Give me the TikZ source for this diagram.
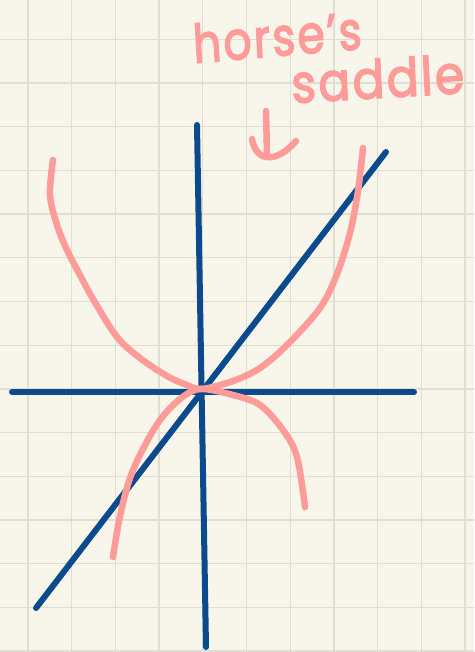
\documentclass[tikz,border=0pt]{standalone}
\usepackage{fontspec}
\newfontfamily\handfont{Poppins}[LetterSpace=5, FakeBold=3]
\usetikzlibrary{arrows.meta}
\definecolor{paper}{HTML}{F8F6EA}
\definecolor{gridline}{HTML}{E0DED2}
\definecolor{axisblue}{HTML}{0B4A8C}
\definecolor{saddlepink}{HTML}{FF9B99}

\begin{document}
\begin{tikzpicture}[
    x=1pt, y=-1pt,
    gridrule/.style={draw=gridline, line width=1.3pt},
    axis/.style={draw=axisblue, line width=6pt, line cap=round},
    sketch/.style={draw=saddlepink, line width=6.5pt, line cap=round, line join=round},
    scribble/.style={text=saddlepink, font=\handfont\fontsize{53}{53}\selectfont,
        inner sep=0pt, anchor=base west, transform shape},
]

% === PAPER ===
\fill[paper] (0,0) rectangle (474,652);
\useasboundingbox (0,0) rectangle (474,652);
\foreach \gx in {0,...,10}
    \draw[gridrule] (28+43.7*\gx,0) -- (28+43.7*\gx,652);
\foreach \gy in {0,...,15}
    \draw[gridrule] (0,-4.4+43.7*\gy) -- (474,-4.4+43.7*\gy);

% === AXES ===
\coordinate (ytop) at (197,125);
\coordinate (ybot) at (206,647);
\coordinate (xleft) at (12,392);
\coordinate (xright) at (414,392);
\coordinate (diaglo) at (36,608);
\coordinate (diaghi) at (386,152);

\draw[axis] (ytop) -- (ybot);
\draw[axis] (xleft) -- (xright);
\draw[axis] (diaglo) -- (diaghi);

% === SADDLE CURVES ===
\draw[sketch] plot[smooth, tension=0.55] coordinates {
    (53,160) (50,195) (57,225) (67,250) (80,275) (93,299) (117,337)
    (140,358) (167,376) (187,385) (202,389) (233,381) (260,368)
    (287,345) (320,308) (337,274) (350,233) (358,191) (363,148)};
\draw[sketch] plot[smooth, tension=0.55] coordinates {
    (113,557) (120,516) (130,478) (143,449) (160,420) (180,399)
    (200,389) (233,395) (260,405) (283,430) (297,457) (305,507)};

% === LABEL ===
\node[scribble, text depth=0pt, xscale=0.83, rotate=4] (horse) at (194,63) {horse’s};
\node[scribble, xscale=0.89, rotate=3] (saddle) at (292,103) {saddle};

\coordinate (stemtop) at (266,111);
\coordinate (stembot) at (267,154);
\coordinate (hookleft) at (252,139);
\coordinate (hookright) at (296,141);
\draw[sketch] (stemtop) -- (stembot);
\draw[sketch] (hookleft) .. controls (256,162) and (276,164) .. (hookright);

\end{tikzpicture}
\end{document}
